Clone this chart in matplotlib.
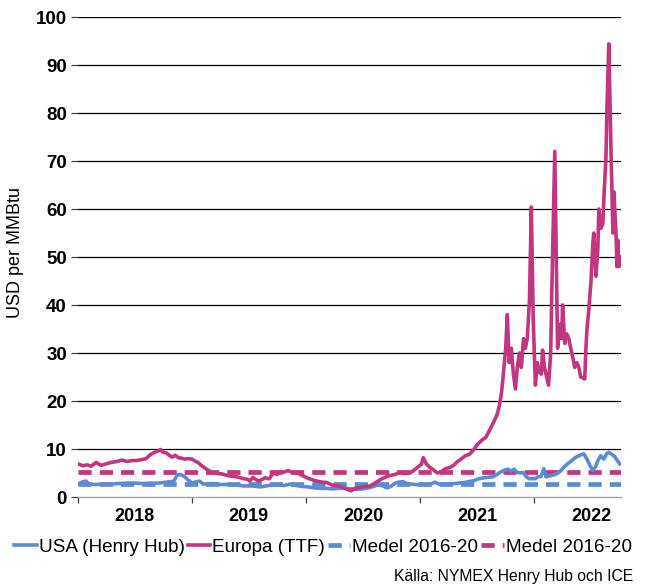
import pandas as pd
import matplotlib
matplotlib.use('Agg')
import matplotlib.pyplot as plt

plt.rcParams['font.family'] = ['Liberation Sans', 'DejaVu Sans']

# Europa (TTF), USD per MMBtu
ttf_dates = ['2018-01-01', '2018-01-17', '2018-01-30', '2018-02-12', '2018-02-28', '2018-03-16',
             '2018-04-01', '2018-04-17', '2018-05-06', '2018-05-22', '2018-06-07', '2018-06-23',
             '2018-07-09', '2018-07-25', '2018-08-07', '2018-08-20', '2018-09-03', '2018-09-15',
             '2018-09-22', '2018-10-01', '2018-10-10', '2018-10-20', '2018-10-30', '2018-11-08',
             '2018-11-18', '2018-11-28', '2018-12-08', '2018-12-21',
             '2019-01-01', '2019-01-10', '2019-01-20', '2019-01-30', '2019-02-08', '2019-02-21',
             '2019-03-06', '2019-03-22', '2019-04-07', '2019-04-23', '2019-05-09', '2019-05-25',
             '2019-06-10', '2019-06-26', '2019-07-06', '2019-07-15', '2019-07-25', '2019-08-04',
             '2019-08-14', '2019-08-23', '2019-09-05', '2019-09-18', '2019-10-01', '2019-10-10',
             '2019-10-23', '2019-11-05', '2019-11-18', '2019-12-04', '2019-12-20',
             '2020-01-04', '2020-01-20', '2020-02-05', '2020-02-21', '2020-03-08', '2020-03-24',
             '2020-04-09', '2020-04-25', '2020-05-11', '2020-05-24', '2020-06-06', '2020-06-22',
             '2020-07-08', '2020-07-24', '2020-08-09', '2020-08-25', '2020-09-10', '2020-09-26',
             '2020-10-12', '2020-10-28', '2020-11-13', '2020-11-29', '2020-12-12', '2020-12-25',
             '2021-01-04', '2021-01-10', '2021-01-20', '2021-01-29', '2021-02-11', '2021-02-24',
             '2021-03-09', '2021-03-22', '2021-04-04', '2021-04-17', '2021-04-30', '2021-05-13',
             '2021-05-25', '2021-06-07', '2021-06-20', '2021-07-03', '2021-07-16', '2021-07-29',
             '2021-08-11', '2021-08-20', '2021-08-30', '2021-09-05', '2021-09-12', '2021-09-18',
             '2021-09-24', '2021-10-01', '2021-10-06', '2021-10-12', '2021-10-19', '2021-10-25',
             '2021-11-01', '2021-11-07', '2021-11-14', '2021-11-20', '2021-11-27', '2021-12-03',
             '2021-12-09', '2021-12-16', '2021-12-22', '2021-12-28',
             '2022-01-04', '2022-01-10', '2022-01-17', '2022-01-23', '2022-01-27', '2022-02-02',
             '2022-02-09', '2022-02-15', '2022-02-22', '2022-02-25', '2022-03-03', '2022-03-07',
             '2022-03-13', '2022-03-16', '2022-03-23', '2022-03-29', '2022-04-01', '2022-04-08',
             '2022-04-14', '2022-04-21', '2022-04-27', '2022-05-04', '2022-05-10', '2022-05-17',
             '2022-05-23', '2022-05-29', '2022-06-05', '2022-06-11', '2022-06-14', '2022-06-18',
             '2022-06-24', '2022-07-01', '2022-07-07', '2022-07-10', '2022-07-17', '2022-07-23',
             '2022-07-26', '2022-08-02', '2022-08-08', '2022-08-11', '2022-08-15', '2022-08-18',
             '2022-08-21', '2022-08-27', '2022-09-03', '2022-09-06', '2022-09-09', '2022-09-12',
             '2022-09-19', '2022-09-22', '2022-09-25', '2022-09-28', '2022-10-01']
ttf_values = [6.9, 6.5, 6.7, 6.4, 7.2, 6.6,
              6.9, 7.2, 7.4, 7.7, 7.4, 7.6,
              7.6, 7.8, 8.0, 8.8, 9.3, 9.6,
              9.9, 9.3, 9.2, 8.7, 8.3, 8.7,
              8.2, 8.1, 7.9, 8.0,
              7.9, 7.5, 7.2, 6.6, 6.2, 5.6,
              5.1, 4.9, 4.8, 4.5, 4.3, 4.2,
              3.9, 3.7, 3.4, 4.1, 3.6, 3.3,
              3.7, 4.0, 3.8, 5.0, 4.7, 5.3,
              5.2, 5.5, 5.1, 5.0, 4.5,
              4.0, 3.6, 3.3, 3.1, 3.0, 2.5,
              2.3, 2.1, 1.6, 1.3, 1.8, 2.0,
              2.2, 2.3, 2.9, 3.6, 4.1, 4.5,
              4.7, 5.2, 4.9, 5.0, 5.6, 6.3,
              6.8, 8.2, 6.9, 6.3, 5.7, 5.0,
              5.3, 5.9, 6.1, 6.6, 7.4, 8.0,
              8.6, 8.9, 9.8, 11.0, 11.8, 12.4,
              14.0, 15.2, 16.5, 17.5, 19.5, 22.0,
              26.0, 31.0, 38.0, 28.0, 31.0, 26.0,
              22.5, 27.0, 30.0, 27.0, 33.0, 31.0,
              33.0, 41.0, 60.4, 37.0,
              23.3, 28.0, 26.0, 25.6, 30.6, 27.0,
              25.0, 23.3, 30.0, 41.0, 60.0, 72.0,
              45.0, 31.0, 36.0, 33.0, 40.0, 32.0,
              34.0, 33.0, 31.0, 29.0, 27.0, 28.0,
              27.0, 25.0, 24.8, 24.6, 30.0, 35.0,
              39.0, 45.0, 53.0, 55.0, 46.0, 52.0,
              60.0, 56.0, 57.0, 62.0, 67.0, 71.0,
              81.0, 94.4, 72.0, 64.0, 55.0, 63.6,
              55.0, 48.0, 53.5, 48.0, 50.0]

# USA (Henry Hub), USD per MMBtu
hh_dates = ['2018-01-01', '2018-01-17', '2018-01-27', '2018-02-05', '2018-02-24', '2018-03-22',
            '2018-04-17', '2018-05-11', '2018-06-07', '2018-07-02', '2018-07-28', '2018-08-22',
            '2018-09-17', '2018-10-12', '2018-11-04', '2018-11-14', '2018-11-24', '2018-12-07',
            '2018-12-20',
            '2019-01-02', '2019-01-15', '2019-01-25', '2019-02-06', '2019-03-06', '2019-04-01',
            '2019-04-27', '2019-05-22', '2019-06-17', '2019-07-14', '2019-08-08', '2019-09-03',
            '2019-09-28', '2019-10-23', '2019-11-11', '2019-11-30', '2019-12-20',
            '2020-01-08', '2020-01-27', '2020-02-16', '2020-03-06', '2020-03-26', '2020-04-15',
            '2020-05-04', '2020-05-24', '2020-06-12', '2020-07-01', '2020-07-20', '2020-08-08',
            '2020-08-21', '2020-09-03', '2020-09-16', '2020-09-28', '2020-10-12', '2020-10-24',
            '2020-11-06', '2020-11-19', '2020-12-02', '2020-12-15', '2020-12-28',
            '2021-01-08', '2021-01-24', '2021-02-06', '2021-02-16', '2021-03-01', '2021-03-17',
            '2021-04-02', '2021-04-18', '2021-05-04', '2021-05-20', '2021-06-05', '2021-06-21',
            '2021-07-07', '2021-07-23', '2021-08-05', '2021-08-21', '2021-09-03', '2021-09-15',
            '2021-09-28', '2021-10-08', '2021-10-18', '2021-10-27', '2021-11-06', '2021-11-16',
            '2021-11-25', '2021-12-05', '2021-12-15', '2021-12-24',
            '2022-01-03', '2022-01-12', '2022-01-22', '2022-01-31', '2022-02-07', '2022-02-17',
            '2022-02-26', '2022-03-08', '2022-03-17', '2022-03-27', '2022-04-05', '2022-04-15',
            '2022-04-25', '2022-05-04', '2022-05-14', '2022-05-24', '2022-06-02', '2022-06-08',
            '2022-06-18', '2022-06-28', '2022-07-07', '2022-07-17', '2022-07-23', '2022-08-01',
            '2022-08-11', '2022-08-20', '2022-08-27', '2022-09-05', '2022-09-15', '2022-09-21',
            '2022-10-01']
hh_values = [2.7, 3.2, 3.3, 2.7, 2.6, 2.7,
             2.7, 2.8, 2.9, 2.9, 2.8, 2.9,
             2.9, 3.1, 3.3, 4.6, 4.7, 4.3,
             3.5,
             2.9, 3.2, 3.3, 2.7, 2.8, 2.6,
             2.6, 2.5, 2.3, 2.3, 2.1, 2.4,
             2.5, 2.4, 2.7, 2.4, 2.2,
             2.1, 1.9, 1.8, 1.8, 1.7, 1.8,
             1.8, 1.7, 1.6, 1.7, 1.9, 2.3,
             2.6, 2.3, 1.9, 2.2, 2.9, 3.1,
             3.2, 2.8, 2.7, 2.6, 2.5,
             2.7, 2.5, 2.8, 3.1, 2.7, 2.6,
             2.6, 2.8, 2.9, 3.0, 3.2, 3.4,
             3.8, 4.0, 4.1, 4.2, 4.7, 5.2,
             5.6, 5.8, 5.4, 5.8, 5.2, 5.0,
             5.1, 4.3, 3.8, 3.8,
             3.8, 4.2, 4.3, 5.9, 4.2, 4.4,
             4.5, 4.7, 5.0, 5.5, 6.2, 6.8,
             7.3, 7.8, 8.3, 8.6, 8.9, 9.0,
             7.9, 6.5, 5.5, 6.5, 7.6, 8.6,
             7.9, 9.0, 9.3, 8.9, 8.4, 7.8,
             6.9]

# Medel 2016-20
hh_mean = 2.7
ttf_mean = 5.3

x_start = pd.Timestamp('2018-01-01')
x_end = pd.Timestamp('2022-10-05')
years = [2018, 2019, 2020, 2021, 2022]

blue = '#5B8CD1'
pink = '#C2357F'

fig = plt.figure(figsize=(6.46, 5.85), dpi=100)
ax = fig.add_axes([78/646, 1 - 497/585, (621 - 78)/646, (497 - 17)/585])

ax.plot(pd.to_datetime(hh_dates), hh_values, color=blue, lw=2.6, label='USA (Henry Hub)', zorder=3)
ax.plot(pd.to_datetime(ttf_dates), ttf_values, color=pink, lw=2.6, label='Europa (TTF)', zorder=4)
ax.plot([x_start, x_end], [hh_mean, hh_mean], color=blue, lw=3.4, ls=(0, (2.8, 1.7)),
        label='Medel 2016-20', zorder=2)
ax.plot([x_start, x_end], [ttf_mean, ttf_mean], color=pink, lw=3.4, ls=(0, (2.8, 1.7)),
        label='Medel 2016-20', zorder=2)

ax.set_xlim(x_start, x_end)
ax.set_ylim(0, 100)
ax.set_yticks(range(0, 101, 10))
for v in range(10, 101, 10):
    ax.axhline(v, color='black', lw=0.9, zorder=1)

for s in ['left', 'right', 'top']:
    ax.spines[s].set_visible(False)
ax.spines['bottom'].set_color('#a6a6a6')
ax.spines['bottom'].set_linewidth(1.0)

ax.tick_params(axis='y', length=5, width=0.9, color='#404040', pad=3, labelsize=13.5)
for lab in ax.get_yticklabels():
    lab.set_fontweight('bold')

ax.set_xticks([pd.Timestamp(f'{y}-01-01') for y in years])
ax.set_xticklabels([])
ax.set_xticks([pd.Timestamp(f'{y}-07-02') for y in years], minor=True)
ax.set_xticklabels([str(y) for y in years], minor=True, fontweight='bold', fontsize=13)
ax.tick_params(axis='x', which='major', length=4, width=0.9, color='#404040')
ax.tick_params(axis='x', which='minor', length=0, pad=8)

ax.set_ylabel('USD per MMBtu', fontsize=13)
ax.yaxis.set_label_coords((24 - 78)/543, 0.51)

fig.legend(loc='center', bbox_to_anchor=(0.5, 1 - 547/585), ncol=4, frameon=False,
           fontsize=13.6, handlelength=1.2, handletextpad=0.1, columnspacing=0.15,
           borderaxespad=0)

fig.text(633/646, 1 - 577/585, 'Källa: NYMEX Henry Hub och ICE', ha='right', va='center', fontsize=11.3)

fig.savefig('out.png', dpi=100)
